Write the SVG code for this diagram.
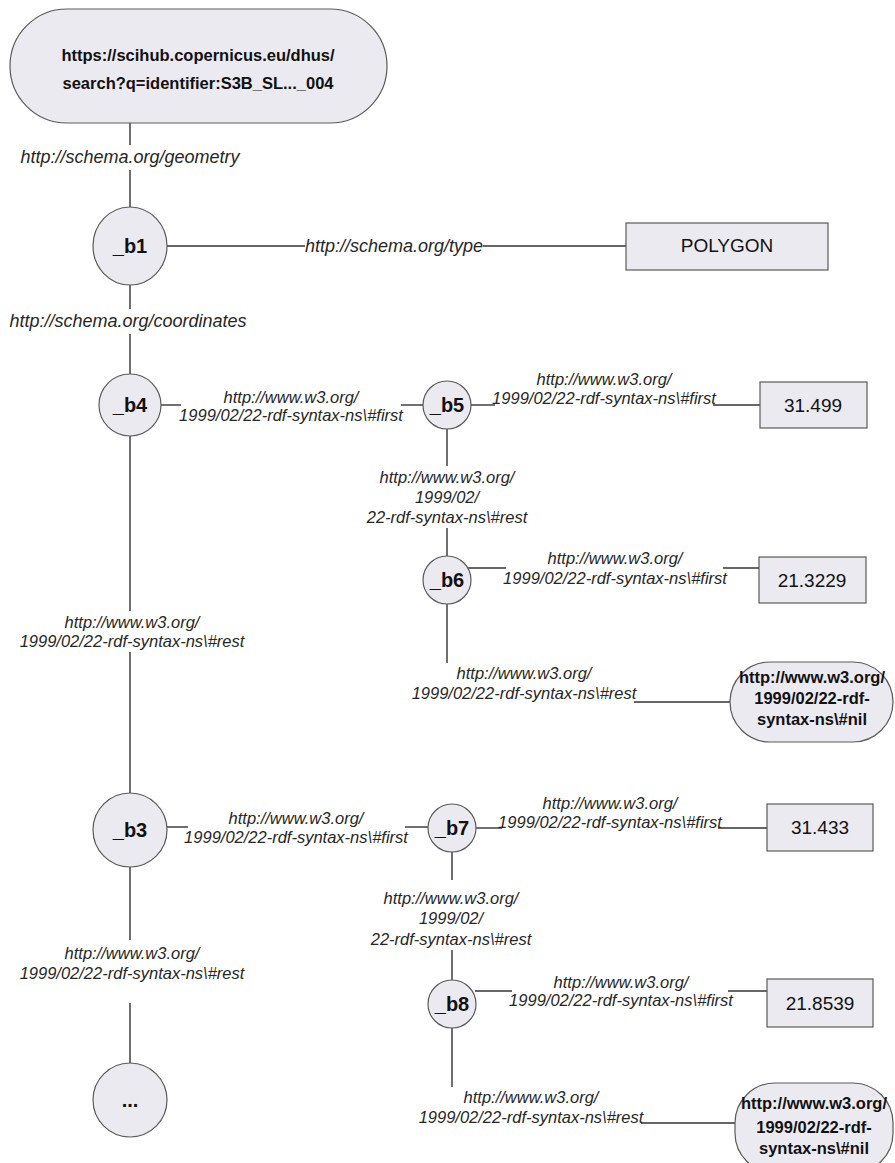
<svg xmlns="http://www.w3.org/2000/svg" width="895" height="1163" viewBox="0 0 895 1163">
<style>
.n{fill:#ECEAF1;stroke:#5a5a5a;stroke-width:1.2}
.e{stroke:#333;stroke-width:1.4;fill:none}
.lb{font-family:"Liberation Sans",Arial,sans-serif;font-style:italic;font-size:16.5px;fill:#262626;text-anchor:middle}
.ls{font-family:"Liberation Sans",Arial,sans-serif;font-style:italic;font-size:18px;fill:#262626;text-anchor:middle}
.nb{font-family:"Liberation Sans",Arial,sans-serif;font-weight:bold;font-size:20px;fill:#111;text-anchor:middle}
.nt{font-family:"Liberation Sans",Arial,sans-serif;font-weight:bold;font-size:16.5px;fill:#111;text-anchor:middle}
.nv{font-family:"Liberation Sans",Arial,sans-serif;font-size:19px;fill:#111;text-anchor:middle}
</style>
<rect width="895" height="1163" fill="#fff"/>
<g id="connectors">
<line class="e" x1="130" y1="123" x2="130" y2="145"/>
<line class="e" x1="130" y1="170" x2="130" y2="207"/>
<line class="e" x1="167" y1="246" x2="305" y2="246"/>
<line class="e" x1="483" y1="246" x2="626" y2="246"/>
<line class="e" x1="130" y1="285" x2="130" y2="309"/>
<line class="e" x1="130" y1="334" x2="130" y2="374"/>
<line class="e" x1="161" y1="405" x2="181" y2="405"/>
<line class="e" x1="401" y1="405" x2="423" y2="405"/>
<line class="e" x1="471" y1="405" x2="495" y2="405"/>
<line class="e" x1="713" y1="405" x2="760" y2="405"/>
<line class="e" x1="447" y1="429" x2="447" y2="466"/>
<line class="e" x1="447" y1="528" x2="447" y2="556"/>
<line class="e" x1="468" y1="568" x2="506" y2="568"/>
<line class="e" x1="723" y1="568" x2="759" y2="568"/>
<line class="e" x1="447" y1="604" x2="447" y2="663"/>
<line class="e" x1="634" y1="702" x2="730" y2="702"/>
<line class="e" x1="130" y1="436" x2="130" y2="611"/>
<line class="e" x1="130" y1="652" x2="130" y2="793"/>
<line class="e" x1="167" y1="827" x2="188" y2="827"/>
<line class="e" x1="405" y1="827" x2="428" y2="827"/>
<line class="e" x1="476" y1="828" x2="502" y2="828"/>
<line class="e" x1="718" y1="828" x2="767" y2="828"/>
<line class="e" x1="452" y1="852" x2="452" y2="880"/>
<line class="e" x1="452" y1="950" x2="452" y2="980"/>
<line class="e" x1="475" y1="991" x2="512" y2="991"/>
<line class="e" x1="728" y1="991" x2="767" y2="991"/>
<line class="e" x1="452" y1="1028" x2="452" y2="1087"/>
<line class="e" x1="641" y1="1123" x2="735" y2="1123"/>
<line class="e" x1="130" y1="867" x2="130" y2="940"/>
<line class="e" x1="130" y1="1003" x2="130" y2="1063"/>
<text class="ls" x="130" y="163">http://schema.org/geometry</text>
<text class="ls" x="394" y="252">http://schema.org/type</text>
<text class="ls" x="128" y="327">http://schema.org/coordinates</text>
<text class="lb" x="291" y="403">http://www.w3.org/</text>
<text class="lb" x="291" y="421">1999/02/22-rdf-syntax-ns\#first</text>
<text class="lb" x="604" y="385">http://www.w3.org/</text>
<text class="lb" x="604" y="404">1999/02/22-rdf-syntax-ns\#first</text>
<text class="lb" x="447" y="483">http://www.w3.org/</text>
<text class="lb" x="447" y="503">1999/02/</text>
<text class="lb" x="447" y="523">22-rdf-syntax-ns\#rest</text>
<text class="lb" x="615" y="564">http://www.w3.org/</text>
<text class="lb" x="615" y="584">1999/02/22-rdf-syntax-ns\#first</text>
<text class="lb" x="524" y="679">http://www.w3.org/</text>
<text class="lb" x="524" y="699">1999/02/22-rdf-syntax-ns\#rest</text>
<text class="lb" x="132" y="628">http://www.w3.org/</text>
<text class="lb" x="132" y="647">1999/02/22-rdf-syntax-ns\#rest</text>
<text class="lb" x="296" y="824">http://www.w3.org/</text>
<text class="lb" x="296" y="843">1999/02/22-rdf-syntax-ns\#first</text>
<text class="lb" x="610" y="809">http://www.w3.org/</text>
<text class="lb" x="610" y="828">1999/02/22-rdf-syntax-ns\#first</text>
<text class="lb" x="451" y="904">http://www.w3.org/</text>
<text class="lb" x="451" y="924">1999/02/</text>
<text class="lb" x="451" y="945">22-rdf-syntax-ns\#rest</text>
<text class="lb" x="621" y="988">http://www.w3.org/</text>
<text class="lb" x="621" y="1006">1999/02/22-rdf-syntax-ns\#first</text>
<text class="lb" x="531" y="1103">http://www.w3.org/</text>
<text class="lb" x="531" y="1123">1999/02/22-rdf-syntax-ns\#rest</text>
<text class="lb" x="132" y="959">http://www.w3.org/</text>
<text class="lb" x="132" y="979">1999/02/22-rdf-syntax-ns\#rest</text>
</g>
<g id="root">
<rect class="n" x="10" y="9" width="377" height="114" rx="57"/>
<text class="nt" x="198" y="61" font-size="17">https://scihub.copernicus.eu/dhus/</text>
<text class="nt" x="198" y="89" font-size="17">search?q=identifier:S3B_SL..._004</text>
</g>
<g id="b1"><ellipse class="n" cx="130" cy="246" rx="37" ry="39"/><text class="nb" x="130" y="253">_b1</text></g>
<g id="polygon"><rect class="n" x="626" y="223" width="202" height="47"/><text class="nv" x="727" y="252" font-size="17">POLYGON</text></g>
<g id="b4"><circle class="n" cx="130" cy="405" r="31"/><text class="nb" x="130" y="412">_b4</text></g>
<g id="b5"><circle class="n" cx="447" cy="405" r="24"/><text class="nb" x="447" y="412">_b5</text></g>
<g id="v31499"><rect class="n" x="760" y="382" width="107" height="46"/><text class="nv" x="813" y="412">31.499</text></g>
<g id="b6"><circle class="n" cx="447" cy="580" r="24"/><text class="nb" x="447" y="587">_b6</text></g>
<g id="v213229"><rect class="n" x="759" y="557" width="107" height="46"/><text class="nv" x="812" y="587">21.3229</text></g>
<g id="nil1"><rect class="n" x="730" y="662" width="163" height="80" rx="40"/>
<text class="nt" x="812" y="683">http://www.w3.org/</text><text class="nt" x="812" y="704">1999/02/22-rdf-</text><text class="nt" x="812" y="725">syntax-ns\#nil</text></g>
<g id="b3"><circle class="n" cx="130" cy="830" r="37"/><text class="nb" x="130" y="837">_b3</text></g>
<g id="b7"><circle class="n" cx="452" cy="828" r="24"/><text class="nb" x="452" y="835">_b7</text></g>
<g id="v31433"><rect class="n" x="767" y="804" width="106" height="47"/><text class="nv" x="820" y="834">31.433</text></g>
<g id="b8"><circle class="n" cx="452" cy="1004" r="24"/><text class="nb" x="452" y="1011">_b8</text></g>
<g id="v218539"><rect class="n" x="767" y="979" width="106" height="48"/><text class="nv" x="820" y="1010">21.8539</text></g>
<g id="nil2"><rect class="n" x="735" y="1083" width="158" height="90" rx="40"/>
<text class="nt" x="814" y="1109">http://www.w3.org/</text><text class="nt" x="814" y="1133">1999/02/22-rdf-</text><text class="nt" x="814" y="1154">syntax-ns\#nil</text></g>
<g id="more"><circle class="n" cx="130" cy="1100" r="37"/><text class="nb" x="130" y="1107">...</text></g>
</svg>
